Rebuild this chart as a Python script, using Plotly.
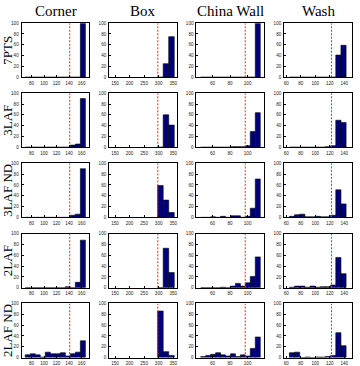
import plotly.graph_objects as go

# ---- data ----
methods = ["Corner", "Box", "China Wall", "Wash"]
conditions = ["7PTS", "3LAF", "3LAF ND", "2LAF", "2LAF ND"]

corner_bins = [74, 82, 90, 98, 106, 114, 122, 130, 138, 146, 154, 162]
box_bins = [306, 325, 344]
china_bins = [49.4, 55.1, 60.7, 66.4, 72.0, 77.7, 83.3, 89.0, 94.6, 100.3, 105.9, 111.6]
wash_bins = [67.9, 75.0, 82.1, 89.2, 96.3, 103.4, 110.5, 117.6, 124.7, 131.8, 138.9]

corner_ticks = [80, 100, 120, 140, 160]
box_ticks = [150, 200, 250, 300, 350]
china_ticks = [60, 80, 100]
wash_ticks = [60, 80, 100, 120, 140]
y_ticks = [0, 20, 40, 60, 80, 100]

corner_threshold = 141
box_threshold = 297
china_threshold = 97.3
wash_threshold = 122.3

corner_7pts = [0, 0, 0, 0, 0, 0, 0, 0, 0, 0, 0, 100]
corner_3laf = [0, 0, 0, 0, 0, 0, 0, 0, 0, 4, 6, 90]
corner_3lafnd = [0, 0, 0, 0, 0, 0, 0, 0, 0, 4, 6, 90]
corner_2laf = [0, 0, 0, 0, 0, 0, 0, 0, 2, 0, 10, 88]
corner_2lafnd = [5, 7, 5, 1, 10, 7, 7, 9, 3, 7, 10, 31]

box_7pts = [0, 25, 75]
box_3laf = [0, 60, 41]
box_3lafnd = [59, 32, 9]
box_2laf = [0, 73, 28]
box_2lafnd = [86, 11, 4]

china_7pts = [0, 0, 0, 0, 0, 0, 0, 0, 0, 0, 0, 100]
china_3laf = [0, 0, 0, 0, 0, 0, 1, 1, 1, 3, 29, 64]
china_3lafnd = [0, 0, 1, 0, 2, 0, 3, 3, 0, 2, 17, 71]
china_2laf = [0, 0, 0, 0, 1, 0, 3, 8, 3, 9, 21, 57]
china_2lafnd = [2, 4, 6, 9, 5, 3, 7, 2, 5, 3, 17, 38]

wash_7pts = [0, 0, 0, 0, 0, 0, 0, 0, 0, 41, 59]
wash_3laf = [0, 0, 0, 0, 0, 0, 0, 1, 3, 50, 46]
wash_3lafnd = [2, 5, 6, 1, 1, 2, 1, 1, 4, 51, 25]
wash_2laf = [1, 3, 3, 1, 3, 1, 2, 2, 5, 56, 26]
wash_2lafnd = [9, 10, 0, 1, 0, 1, 1, 2, 4, 46, 22]

columns = [
    dict(bins=corner_bins, width=8, rng=[64.3, 172.5], ticks=corner_ticks, thr=corner_threshold,
         rows=[corner_7pts, corner_3laf, corner_3lafnd, corner_2laf, corner_2lafnd]),
    dict(bins=box_bins, width=19, rng=[130, 363], ticks=box_ticks, thr=box_threshold,
         rows=[box_7pts, box_3laf, box_3lafnd, box_2laf, box_2lafnd]),
    dict(bins=china_bins, width=5.65, rng=[41.7, 119], ticks=china_ticks, thr=china_threshold,
         rows=[china_7pts, china_3laf, china_3lafnd, china_2laf, china_2lafnd]),
    dict(bins=wash_bins, width=7.1, rng=[57.2, 150.6], ticks=wash_ticks, thr=wash_threshold,
         rows=[wash_7pts, wash_3laf, wash_3lafnd, wash_2laf, wash_2lafnd]),
]

# ---- layout geometry (pixels) ----
W, H = 360, 366
col_left = [20.7, 108.5, 196.0, 284.0]
col_w = 68.0
row_top = [21.5, 92.7, 164.0, 235.5, 306.5]
row_h = 55.0

fig = go.Figure()
layout = dict(
    width=W, height=H, margin=dict(l=0, r=0, t=0, b=0),
    paper_bgcolor="white", plot_bgcolor="white", showlegend=False,
    annotations=[],
)

tickfont = dict(family="Liberation Sans, Arial", size=4.6, color="#222222")
n = 0
for r in range(5):
    for c in range(4):
        n += 1
        col = columns[c]
        xa = "x" if n == 1 else f"x{n}"
        ya = "y" if n == 1 else f"y{n}"
        fig.add_trace(go.Scatter(
            x=[col["thr"], col["thr"]], y=[0, 100], mode="lines",
            line=dict(color="#FF2020", width=1, dash="2px,1.5px"),
            xaxis=xa, yaxis=ya, hoverinfo="skip",
        ))
        fig.add_trace(go.Bar(
            x=col["bins"], y=col["rows"][r], width=col["width"],
            marker=dict(color="#00007F", line=dict(color="black", width=0.6)),
            xaxis=xa, yaxis=ya, hoverinfo="skip",
        ))
        x0 = col_left[c] / W
        x1 = (col_left[c] + col_w) / W
        y1 = 1 - row_top[r] / H
        y0 = 1 - (row_top[r] + row_h) / H
        common = dict(showline=True, mirror=True, linecolor="black", linewidth=1,
                      ticks="inside", ticklen=2, tickwidth=0.6, tickcolor="black",
                      showgrid=False, zeroline=False, tickfont=tickfont, fixedrange=True)
        layout["xaxis" if n == 1 else f"xaxis{n}"] = dict(
            domain=[x0, x1], range=col["rng"], tickvals=col["ticks"],
            anchor=ya, ticklabelstandoff=1, **common)
        layout["yaxis" if n == 1 else f"yaxis{n}"] = dict(
            domain=[y0, y1], range=[0, 100], tickvals=y_ticks,
            anchor=xa, ticklabelstandoff=1, **common)

serif = "Liberation Serif, Times New Roman, serif"
for c, name in enumerate(methods):
    layout["annotations"].append(dict(
        text=name, x=(col_left[c] + col_w / 2) / W, y=1 - 9 / H,
        xref="paper", yref="paper", showarrow=False,
        font=dict(family=serif, size=15, color="black"), xanchor="center", yanchor="middle"))
for r, name in enumerate(conditions):
    layout["annotations"].append(dict(
        text=name, x=6.5 / W, y=1 - (row_top[r] + row_h / 2) / H,
        xref="paper", yref="paper", showarrow=False, textangle=-90,
        font=dict(family=serif, size=13, color="black"), xanchor="center", yanchor="middle"))

fig.update_layout(**layout)
fig.write_html("out.html")
